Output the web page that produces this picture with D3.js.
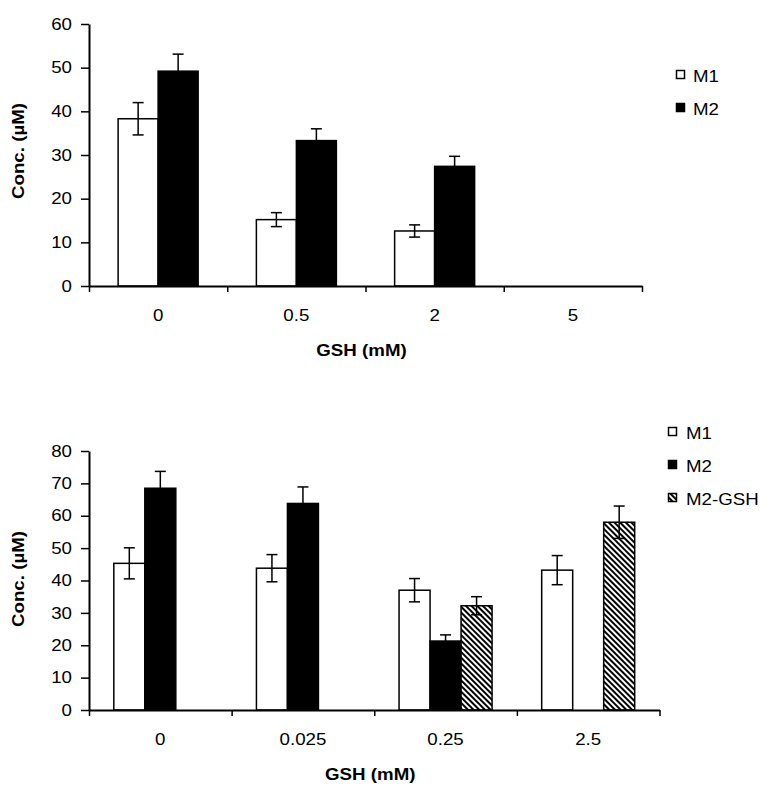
<!DOCTYPE html>
<html>
<head>
<meta charset="utf-8">
<script src="https://cdn.jsdelivr.net/npm/d3@7"></script>
<style>
  html, body { margin: 0; padding: 0; background: #fff; }
  svg { display: block; }
  text { font-family: "Liberation Sans", Arial, sans-serif; fill: #000; }
</style>
</head>
<body>
<script>
// ---------------- DATA ----------------
const topCategories = ["0", "0.5", "2", "5"];
const topM1 = [38.3, 15.2, 12.6, null];
const topM1Err = [3.7, 1.6, 1.4, null];
const topM2 = [49.2, 33.3, 27.4, null];
const topM2Err = [3.9, 2.7, 2.3, null];
const topYTicks = [0, 10, 20, 30, 40, 50, 60];

const botCategories = ["0", "0.025", "0.25", "2.5"];
const botM1 = [45.3, 43.8, 37.0, 43.2];
const botM1Err = [4.8, 4.2, 3.6, 4.5];
const botM2 = [68.5, 63.8, 21.3, null];
const botM2Err = [5.2, 5.1, 1.9, null];
const botM2GSH = [null, null, 32.2, 58.0];
const botM2GSHErr = [null, null, 2.8, 5.0];
const botYTicks = [0, 10, 20, 30, 40, 50, 60, 70, 80];

const xTitle = "GSH (mM)";
const yTitle = "Conc. (\u00B5M)";

// ---------------- DRAW ----------------
const W = 768, H = 794, K = 1.17;
const svg = d3.select("body").append("svg").attr("width", W).attr("height", H);

const defs = svg.append("defs");
const pat = defs.append("pattern").attr("id", "hatch")
  .attr("patternUnits", "userSpaceOnUse").attr("width", 4).attr("height", 4)
  .attr("patternTransform", "rotate(-45)");
pat.append("rect").attr("width", 4).attr("height", 4).attr("fill", "#fff");
pat.append("rect").attr("width", 2).attr("height", 4).attr("fill", "#000");

function stretch(sel, extra) {
  sel.each(function () {
    const t = d3.select(this);
    const x = +t.attr("x") || 0, y = +t.attr("y") || 0;
    t.attr("x", 0).attr("y", 0)
     .attr("transform", `translate(${x},${y})${extra || ""} scale(${K},1)`);
  });
}

function drawChart(cfg) {
  const g = svg.append("g");
  const y = d3.scaleLinear().domain([0, cfg.yMax]).range([cfg.y0, cfg.y1]);
  const x = d3.scaleBand().domain(cfg.categories).range([cfg.x0, cfg.x1]).padding(0);
  const bw = x.bandwidth();
  const names = cfg.series.map(s => s.name);
  const xi = d3.scaleBand().domain(names)
    .range([(bw - cfg.groupW) / 2, (bw + cfg.groupW) / 2]).padding(0);

  // bars
  cfg.series.forEach(s => {
    const data = cfg.categories.map((c, i) => ({ c, v: s.values[i], e: s.errors[i] }))
      .filter(d => d.v != null);
    g.selectAll(null).data(data).enter().append("rect")
      .attr("x", d => x(d.c) + xi(s.name))
      .attr("y", d => y(d.v))
      .attr("width", xi.bandwidth())
      .attr("height", d => y(0) - y(d.v))
      .attr("fill", s.fill)
      .attr("stroke", "#000").attr("stroke-width", 1.5);
  });
  // error bars
  cfg.series.forEach(s => {
    const data = cfg.categories.map((c, i) => ({ c, v: s.values[i], e: s.errors[i] }))
      .filter(d => d.v != null);
    const eb = g.selectAll(null).data(data).enter().append("g")
      .attr("stroke", "#000").attr("stroke-width", 1.5);
    const cx = d => x(d.c) + xi(s.name) + xi.bandwidth() / 2;
    eb.append("line").attr("x1", cx).attr("x2", cx)
      .attr("y1", d => y(d.v - d.e)).attr("y2", d => y(d.v + d.e));
    eb.append("line").attr("x1", d => cx(d) - 5.5).attr("x2", d => cx(d) + 5.5)
      .attr("y1", d => y(d.v + d.e)).attr("y2", d => y(d.v + d.e));
    eb.append("line").attr("x1", d => cx(d) - 5.5).attr("x2", d => cx(d) + 5.5)
      .attr("y1", d => y(d.v - d.e)).attr("y2", d => y(d.v - d.e));
  });

  // y axis
  const ya = g.append("g").attr("transform", `translate(${cfg.x0},0)`)
    .call(d3.axisLeft(y).tickValues(cfg.yTicks).tickSize(8).tickSizeOuter(0).tickPadding(9));
  ya.select(".domain").attr("stroke-width", 2);
  ya.selectAll(".tick line").attr("stroke-width", 1.5);
  ya.selectAll(".tick text").style("font-size", "16px")
    .style("font-family", '"Liberation Sans", Arial, sans-serif');
  stretch(ya.selectAll(".tick text"));

  // x axis: boundary ticks
  const xb = d3.scaleLinear().domain([0, cfg.categories.length]).range([cfg.x0, cfg.x1]);
  const xa = g.append("g").attr("transform", `translate(0,${cfg.y0})`)
    .call(d3.axisBottom(xb).tickValues(d3.range(0, cfg.categories.length + 1))
      .tickFormat("").tickSize(6).tickSizeOuter(0));
  xa.select(".domain").attr("stroke-width", 2);
  xa.selectAll(".tick line").attr("stroke-width", 1.5);
  // x labels at centers
  const xl = g.append("g").attr("transform", `translate(0,${cfg.y0})`)
    .call(d3.axisBottom(x).tickSize(0).tickPadding(24));
  xl.select(".domain").remove();
  xl.selectAll(".tick text").style("font-size", "16px")
    .style("font-family", '"Liberation Sans", Arial, sans-serif');
  stretch(xl.selectAll(".tick text"));

  // titles
  const xt = g.append("text").attr("x", (cfg.x0 + cfg.x1) / 2 - 4).attr("y", cfg.y0 + 70)
    .attr("text-anchor", "middle").style("font-size", "16px").style("font-weight", "bold")
    .text(xTitle);
  stretch(xt);
  const yt = g.append("text").attr("x", 24).attr("y", cfg.yLabelY)
    .attr("text-anchor", "middle").style("font-size", "16px").style("font-weight", "bold")
    .text(yTitle);
  stretch(yt, " rotate(-90)");

  // legend
  const lg = g.append("g");
  cfg.series.forEach((s, i) => {
    const by = cfg.legY + i * 33;
    lg.append("rect").attr("x", cfg.legX).attr("y", by - 11.5)
      .attr("width", cfg.legBox).attr("height", cfg.legBox)
      .attr("fill", s.fill).attr("stroke", "#000").attr("stroke-width", 1.5);
    const t = lg.append("text").attr("x", cfg.legTextX).attr("y", by)
      .style("font-size", "16px").text(s.name);
    stretch(t);
  });
}

drawChart({
  categories: topCategories,
  series: [
    { name: "M1", values: topM1, errors: topM1Err, fill: "#fff" },
    { name: "M2", values: topM2, errors: topM2Err, fill: "#000" }
  ],
  yMax: 60, yTicks: topYTicks,
  x0: 89, x1: 642, y0: 286, y1: 24,
  groupW: 80, yLabelY: 151,
  legX: 676.5, legTextX: 693, legY: 82, legBox: 8
});

drawChart({
  categories: botCategories,
  series: [
    { name: "M1", values: botM1, errors: botM1Err, fill: "#fff" },
    { name: "M2", values: botM2, errors: botM2Err, fill: "#000" },
    { name: "M2-GSH", values: botM2GSH, errors: botM2GSHErr, fill: "url(#hatch)" }
  ],
  yMax: 80, yTicks: botYTicks,
  x0: 89, x1: 659.5, y0: 710, y1: 451,
  groupW: 93, yLabelY: 579,
  legX: 668.5, legTextX: 686, legY: 439, legBox: 8
});
</script>
</body>
</html>
